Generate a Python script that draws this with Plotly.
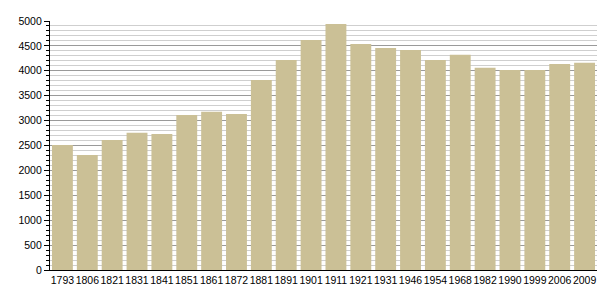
import plotly.graph_objects as go

years = ["1793", "1806", "1821", "1831", "1841", "1851", "1861", "1872", "1881", "1891",
         "1901", "1911", "1921", "1931", "1946", "1954", "1968", "1982", "1990", "1999",
         "2006", "2009"]
population = [2510, 2309, 2610, 2757, 2731, 3112, 3179, 3132, 3815, 4217,
              4618, 4940, 4538, 4458, 4418, 4217, 4323, 4062, 4016, 4016,
              4137, 4163]
y_ticks = list(range(0, 5001, 500))

fig = go.Figure(go.Bar(x=years, y=population, marker=dict(color="#CBC096", line=dict(width=0))))

fig.update_layout(
    width=605, height=300,
    margin=dict(l=50, r=8, t=21, b=30, autoexpand=False),
    plot_bgcolor="white", paper_bgcolor="white",
    bargap=0.16,
    showlegend=False,
    font=dict(family="Liberation Sans, Arial, sans-serif", size=10.5, color="black"),
)
fig.update_xaxes(
    type="category", showline=True, linecolor="black", linewidth=1.3,
    ticks="", showgrid=False, tickfont=dict(size=10.5), tickangle=0, automargin=False,
)
fig.update_yaxes(
    range=[0, 5000], tickvals=y_ticks, showline=True, linecolor="black", linewidth=1.3,
    ticks="outside", ticklen=5, tickcolor="black", tickwidth=1,
    showgrid=True, gridcolor="#9a9a9a", gridwidth=1, zeroline=False,
    minor=dict(dtick=100, ticks="outside", ticklen=3, tickcolor="black",
               showgrid=True, gridcolor="#cfcfcf", gridwidth=1),
    tickfont=dict(size=10.5), automargin=False,
)

fig.write_html("out.html")
